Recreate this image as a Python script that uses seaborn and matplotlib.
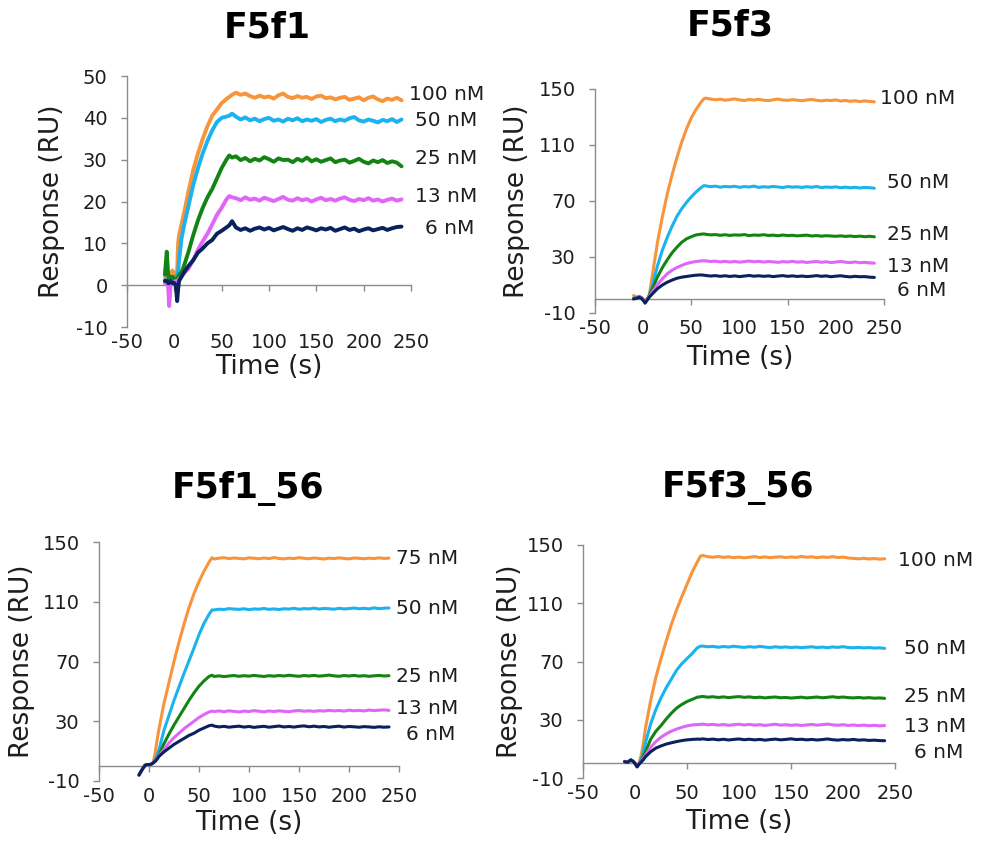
import matplotlib
matplotlib.use("Agg")
import matplotlib.pyplot as plt
import pandas as pd
import seaborn as sns

# ---------------------------------------------------------------- data
PANEL_TITLES = ["F5f1", "F5f3", "F5f1_56", "F5f3_56"]
CONC_LABELS = [
    ["100 nM", "50 nM", "25 nM", "13 nM", "6 nM"],
    ["100 nM", "50 nM", "25 nM", "13 nM", "6 nM"],
    ["75 nM", "50 nM", "25 nM", "13 nM", "6 nM"],
    ["100 nM", "50 nM", "25 nM", "13 nM", "6 nM"],
]
X_TICKS = [-50, 0, 50, 100, 150, 200, 250]
Y_TICKS_F5F1 = [-10, 0, 10, 20, 30, 40, 50]
Y_TICKS_OTHER = [-10, 30, 70, 110, 150]
AXIS_TICKS_FINE = [-50, 0, 50, 100, 150, 200, 250]
AXIS_TICKS_COARSE = [-50, 50, 150, 250]

# time points (s)
T_PRE_F5F1 = [-10, -8, -6.5, -5.5, -4, -2, 0, 1.5, 3, 4, 5, 7.5,
              10, 15, 20, 25, 30, 35, 40, 45, 50, 55, 58, 61]
T_PRE = [-10, -7, -4, -2, 0, 2, 4, 6, 8, 10,
         15, 20, 25, 30, 35, 40, 45, 50, 55, 60, 63]
T_PLATEAU = [65, 70, 75, 80, 85, 90, 95, 100, 105, 110, 115, 120,
             125, 130, 135, 140, 145, 150, 155, 160, 165, 170, 175, 180,
             185, 190, 195, 200, 205, 210, 215, 220, 225, 230, 235, 240]

# ---- F5f1 (RU)
F5F1_100 = [1.5, 2.5, 3.0, -3.5, 2.0, 3.5, 2.5, 3.0, 3.5, 10.0, 12.0, 14.5,
            17.0, 22.5, 27.5, 31.5, 35.0, 38.0, 40.5, 42.0, 43.5, 44.5, 45.0, 45.5,
            46.0, 45.5, 45.8, 45.2, 44.8, 45.3, 44.9, 45.1, 44.6, 45.4, 45.8, 45.0,
            44.7, 45.2, 44.8, 45.0, 44.5, 45.1, 45.3, 44.7, 44.9, 44.4, 44.8, 45.0,
            44.3, 44.6, 44.9, 44.2, 44.8, 45.1, 44.4, 44.0, 44.6, 44.3, 44.8, 44.2]
F5F1_50 = [1.0, 1.5, 1.0, 0.5, 1.0, 1.5, 1.5, 2.0, 2.5, 3.0, 6.0, 11.0,
           14.0, 19.0, 24.0, 28.0, 31.5, 34.5, 37.0, 39.0, 40.0, 40.3, 40.5, 41.0,
           40.3, 39.6, 40.1, 39.4, 39.8, 39.2, 39.7, 40.0, 39.3, 39.6, 39.1, 39.8,
           39.4, 39.9, 39.2, 39.6, 39.3, 39.7, 39.0, 39.5, 39.8, 39.2, 39.6, 39.3,
           39.9, 40.2, 39.4, 39.1, 39.6, 39.3, 38.9, 39.5, 39.2, 39.7, 39.0, 39.6]
F5F1_25 = [2.5, 8.0, 2.5, 1.5, 2.0, 2.0, 1.5, 1.5, 1.5, 2.0, 2.5, 3.0,
           4.5, 8.0, 12.0, 15.5, 18.5, 21.0, 23.0, 25.5, 28.0, 30.0, 31.0, 30.5,
           30.8, 29.9, 30.4, 29.6, 30.2, 29.8, 30.6, 30.1, 29.5, 30.3, 29.9, 30.0,
           29.4, 30.2, 29.7, 30.5, 29.6, 30.1, 29.5, 29.9, 30.3, 29.4, 29.8, 30.0,
           29.3, 29.7, 30.2, 29.5, 29.1, 29.8, 29.4, 29.9, 29.2, 29.6, 29.3, 28.4]
F5F1_13 = [0.5, 0.5, 0.0, -5.0, 0.0, 0.5, 0.5, 1.0, 1.0, 1.2, 1.5, 2.0,
           2.8, 4.0, 6.0, 8.5, 10.5, 12.3, 14.5, 16.8, 18.5, 20.5, 21.3, 21.0,
           20.8, 20.3, 21.0, 20.4, 20.7, 20.2, 20.9, 20.5, 20.1, 20.6, 21.1, 20.4,
           20.2, 20.8, 20.3, 20.6, 20.0, 20.5, 20.9, 20.3, 20.6, 20.2, 20.7, 21.0,
           20.4, 20.1, 20.6, 20.3, 20.8, 20.2, 20.5, 20.0, 20.4, 20.7, 20.2, 20.5]
F5F1_6 = [1.0, 1.0, 0.5, 0.5, 1.0, 0.5, 0.5, 0.0, -3.8, -1.0, 1.0, 2.0,
          3.0, 4.6, 6.0, 7.8, 8.8, 10.0, 10.8, 12.3, 13.0, 13.8, 14.3, 15.3,
          13.8, 13.2, 13.6, 13.0, 13.5, 13.8, 13.3, 13.7, 13.1, 13.5, 13.9, 13.4,
          13.0, 13.6, 13.2, 13.8, 13.5, 13.1, 13.6, 13.3, 13.7, 13.0, 13.4, 13.8,
          13.2, 13.5, 12.9, 13.3, 13.6, 13.1, 13.4, 13.7, 13.2, 13.6, 13.9, 14.0]

# ---- F5f3 (RU)
F5F3_100 = [2.5, 1.5, 2.0, 1.0, 0.0, -2.0, 0.0, 2.0, 10.0, 19.0,
            41.0, 59.0, 75.0, 88.5, 101.0, 112.0, 121.5, 129.5, 135.5, 140.5, 143.0,
            143.5, 142.8, 142.3, 142.7, 142.0, 142.4, 142.9, 142.2, 141.8, 142.5, 142.1, 142.6,
            142.0, 141.7, 142.3, 142.8, 142.1, 141.9, 142.4, 142.0, 141.6, 142.2, 142.5, 141.9,
            141.5, 142.0, 141.7, 142.2, 141.4, 141.8, 141.2, 141.6, 141.0, 141.5, 141.1, 140.8]
F5F3_50 = [0.5, 1.0, 1.5, 1.0, -0.5, -2.5, -0.5, 1.5, 6.0, 11.0,
           24.0, 35.0, 44.0, 52.0, 59.0, 64.5, 69.0, 73.0, 76.5, 79.5, 81.0,
           80.8, 80.2, 80.6, 79.9, 80.4, 80.1, 80.5, 79.8, 80.3, 80.0, 80.6, 79.7,
           80.2, 79.9, 80.4, 80.0, 79.6, 80.3, 79.9, 80.1, 79.7, 80.2, 79.8, 80.4,
           79.6, 80.0, 79.7, 80.1, 79.5, 79.9, 79.4, 79.8, 79.3, 79.7, 79.5, 79.1]
F5F3_25 = [0.5, 0.5, 1.5, 1.0, -0.5, -2.0, 0.0, 2.0, 5.0, 8.0,
           16.0, 22.5, 28.0, 33.0, 37.0, 40.5, 43.0, 44.5, 45.8, 46.3, 46.5,
           46.2, 45.8, 46.0, 45.5, 45.9, 45.4, 45.8, 45.6, 46.0, 45.3, 45.7, 45.5,
           45.9, 45.4, 45.6, 45.2, 45.7, 45.3, 45.5, 45.1, 45.4, 45.6, 45.0, 45.3,
           44.9, 45.2, 45.0, 44.8, 45.1, 44.7, 45.0, 44.6, 44.9, 44.5, 44.8, 44.4]
F5F3_13 = [0.5, 0.5, 1.5, 1.0, -0.5, -2.0, 0.0, 1.5, 3.5, 5.5,
           10.5, 14.5, 18.0, 20.5, 22.5, 24.0, 25.3, 26.2, 26.8, 27.2, 27.3,
           27.2, 26.8, 27.0, 26.5, 26.9, 26.4, 26.8, 26.3, 26.7, 27.1, 26.6, 26.9,
           26.4, 26.8, 26.5, 26.2, 26.7, 26.4, 26.9, 26.3, 26.6, 26.1, 26.5, 26.8,
           26.2, 26.6, 26.0, 26.4, 26.8, 26.3, 26.0, 26.5, 25.9, 26.2, 25.8, 25.6]
F5F3_6 = [0.0, 0.5, 1.2, 0.5, -1.0, -3.0, -1.0, 1.0, 2.5, 4.0,
          7.5, 10.0, 12.0, 13.5, 14.8, 15.6, 16.1, 16.6, 17.0, 17.2, 17.0,
          16.8, 16.4, 16.7, 16.2, 16.6, 16.1, 16.5, 16.0, 16.4, 16.8, 16.3, 16.6,
          16.2, 16.5, 16.0, 16.4, 16.7, 16.2, 16.5, 16.1, 16.4, 16.0, 16.3, 16.7,
          16.2, 16.5, 15.9, 16.3, 16.6, 16.1, 15.8, 16.2, 15.9, 16.0, 15.6, 15.4]

# ---- F5f1_56 (RU)
F5F1_56_75 = [-6.0, -2.5, 0.5, 1.0, 1.0, 1.2, 2.0, 8.0, 17.0, 25.0,
              42.0, 56.0, 70.0, 83.0, 95.0, 106.0, 115.5, 123.5, 130.5, 136.5, 139.5,
              138.6, 139.2, 139.5, 138.9, 139.3, 139.0, 138.7, 139.4, 139.1, 138.8, 139.3, 138.9,
              139.6, 139.0, 138.7, 139.2, 138.9, 139.5, 139.1, 138.8, 139.3, 139.0, 138.6, 139.2,
              138.9, 139.4, 139.0, 138.7, 139.3, 139.1, 138.8, 139.2, 138.9, 139.4, 139.0, 139.2]
F5F1_56_50 = [-6.0, -2.5, 0.5, 1.0, 1.0, 1.2, 2.0, 4.0, 7.0, 11.0,
              24.0, 34.0, 44.0, 53.0, 62.0, 70.5, 79.0, 88.0, 95.5, 101.5, 104.5,
              104.5, 105.0, 104.8, 105.4, 105.1, 104.9, 105.3, 104.7, 105.2, 105.0, 105.5, 104.9,
              105.2, 104.8, 105.3, 105.1, 105.6, 105.0, 105.4, 105.2, 105.7, 105.1, 105.5, 105.3,
              105.0, 105.6, 105.2, 105.4, 105.8, 105.3, 105.6, 105.2, 105.9, 105.4, 105.7, 105.8]
F5F1_56_25 = [-6.0, -2.5, 0.5, 1.0, 1.0, 1.2, 2.0, 3.5, 5.5, 7.5,
              15.0, 21.5, 27.5, 33.0, 38.5, 44.0, 49.0, 53.5, 57.0, 60.0, 60.8,
              60.0, 60.4, 59.9, 60.3, 60.6, 60.1, 60.5, 60.2, 60.7, 60.3, 60.0, 60.5,
              60.2, 60.6, 60.3, 60.8, 60.4, 60.1, 60.6, 60.3, 60.7, 60.2, 60.5, 60.9,
              60.4, 60.1, 60.6, 60.3, 60.7, 60.2, 60.5, 60.1, 60.4, 60.7, 60.3, 60.5]
F5F1_56_13 = [-6.0, -2.5, 0.5, 1.0, 1.0, 1.2, 2.0, 3.0, 5.0, 7.0,
              11.0, 15.5, 19.0, 22.0, 25.0, 27.5, 30.0, 32.5, 34.5, 36.2, 36.8,
              36.5, 36.9, 36.4, 37.0, 36.6, 36.2, 36.8, 36.5, 37.1, 36.7, 36.3, 36.9,
              36.5, 37.0, 36.6, 36.4, 36.9, 37.2, 36.7, 37.0, 36.6, 37.1, 36.8, 37.3,
              36.9, 37.2, 36.8, 37.4, 37.0, 37.3, 36.9, 37.5, 37.1, 37.4, 37.6, 37.3]
F5F1_56_6 = [-6.0, -2.5, 0.5, 1.0, 1.0, 1.2, 2.0, 3.0, 4.5, 6.5,
             9.5, 12.0, 14.5, 16.5, 18.5, 20.5, 22.0, 24.0, 25.5, 27.0, 27.4,
             26.8, 26.2, 26.6, 26.0, 26.4, 26.7, 26.1, 26.5, 25.9, 26.3, 26.6, 26.0,
             26.4, 26.8, 26.2, 26.5, 26.1, 26.6, 26.9, 26.3, 26.7, 26.2, 26.5, 26.0,
             26.4, 26.7, 26.1, 26.5, 26.3, 26.0, 26.4, 26.2, 25.9, 26.3, 26.0, 26.2]

# ---- F5f3_56 (RU)
F5F3_56_100 = [1.5, 1.0, 2.4, 1.5, 0.0, -2.0, 0.5, 6.0, 14.0, 24.0,
               43.0, 59.0, 72.0, 84.0, 95.5, 105.5, 114.5, 123.0, 131.5, 138.5, 142.4,
               142.8, 142.0, 141.6, 142.1, 141.5, 141.9, 141.3, 141.7, 141.2, 141.6, 142.0, 141.4,
               141.8, 141.3, 141.7, 141.9, 141.4, 141.8, 141.5, 142.1, 141.6, 141.9, 141.3, 141.8,
               141.5, 142.0, 141.4, 141.7, 141.1, 140.8, 140.5, 140.9, 140.4, 140.7, 140.3, 140.5]
F5F3_56_50 = [1.2, 0.8, 2.4, 1.5, 0.0, -2.3, 0.0, 3.0, 8.0, 14.0,
              27.0, 37.0, 45.0, 52.0, 58.0, 64.0, 68.5, 72.0, 75.5, 79.5, 80.5,
              80.6, 80.1, 80.4, 79.8, 80.3, 79.9, 80.5, 80.0, 79.7, 80.2, 79.8, 80.4,
              79.9, 79.6, 80.1, 79.7, 80.0, 79.6, 79.9, 79.5, 79.8, 80.1, 79.6, 79.9,
              79.5, 80.0, 79.7, 80.2, 79.6, 79.4, 79.7, 79.3, 79.6, 79.2, 79.4, 79.0]
F5F3_56_25 = [1.2, 0.8, 2.4, 1.5, 0.0, -2.3, 0.0, 2.0, 5.0, 8.0,
              16.5, 22.0, 26.0, 30.5, 34.5, 38.0, 40.5, 42.5, 44.0, 45.5, 45.8,
              46.0, 45.5, 45.8, 45.3, 45.7, 45.2, 45.6, 45.9, 45.4, 45.7, 45.2, 45.5,
              45.0, 45.4, 45.6, 45.1, 45.3, 44.9, 45.2, 45.5, 45.0, 45.3, 45.6, 45.1,
              45.4, 45.8, 45.3, 45.6, 45.2, 45.0, 45.3, 44.9, 45.2, 44.8, 45.0, 44.7]
F5F3_56_13 = [1.2, 0.8, 2.4, 1.5, 0.0, -2.3, 0.0, 1.5, 3.5, 5.5,
              11.0, 15.0, 18.0, 20.3, 22.2, 23.6, 24.8, 25.8, 26.4, 26.7, 26.8,
              27.0, 26.5, 26.8, 26.3, 26.7, 26.2, 26.6, 26.9, 26.4, 26.8, 26.3, 26.6,
              26.1, 26.5, 26.9, 26.3, 26.6, 26.2, 26.5, 26.1, 26.4, 26.8, 26.3, 26.6,
              27.0, 26.5, 26.2, 26.6, 26.1, 26.4, 26.0, 26.3, 25.9, 26.2, 25.8, 26.0]
F5F3_56_6 = [1.2, 0.8, 2.4, 1.5, 0.0, -2.3, -0.5, 1.0, 2.5, 4.5,
             8.0, 10.5, 12.0, 13.3, 14.2, 15.0, 15.7, 16.2, 16.5, 16.7, 16.6,
             16.9, 16.4, 16.7, 16.2, 16.6, 16.1, 16.5, 16.8, 16.3, 16.6, 16.2, 16.5,
             16.0, 16.4, 16.7, 16.2, 16.5, 16.9, 16.4, 16.6, 16.2, 16.5, 16.1, 16.4,
             16.8, 16.3, 16.0, 16.4, 16.1, 16.5, 16.0, 16.2, 15.8, 16.0, 15.7, 15.6]

PANEL_TIMES = [T_PRE_F5F1 + T_PLATEAU, T_PRE + T_PLATEAU,
               T_PRE + T_PLATEAU, T_PRE + T_PLATEAU]
PANEL_SERIES = [
    [F5F1_100, F5F1_50, F5F1_25, F5F1_13, F5F1_6],
    [F5F3_100, F5F3_50, F5F3_25, F5F3_13, F5F3_6],
    [F5F1_56_75, F5F1_56_50, F5F1_56_25, F5F1_56_13, F5F1_56_6],
    [F5F3_56_100, F5F3_56_50, F5F3_56_25, F5F3_56_13, F5F3_56_6],
]

# ---------------------------------------------------------------- style / layout
COLORS = ["#F7943C", "#1AB3EE", "#138413", "#DF66F8", "#0B215E"]
GREY = "#8C8C8C"
TXT = "#1E1E1E"
W, H = 984, 842

# axes boxes in pixels: left, top, right, bottom
AX_BOX = [(127, 76, 411, 327), (595, 89, 884, 313),
          (99, 542, 399, 781), (583, 545, 895, 778)]
Y_LIMS = [(-10, 50), (-10, 150), (-10, 150), (-10, 150)]
Y_TICKS = [Y_TICKS_F5F1, Y_TICKS_OTHER, Y_TICKS_OTHER, Y_TICKS_OTHER]
ZERO_TICKS = [AXIS_TICKS_FINE, AXIS_TICKS_COARSE, AXIS_TICKS_FINE, AXIS_TICKS_COARSE]
LINE_W = [2.8, 2.2, 2.2, 2.2]
YLAB_X = [-0.264, -0.271, -0.258, -0.234]
XLAB_Y = [-0.159, -0.202, -0.174, -0.187]
TITLE_POS = [(267, 28), (730, 26), (248, 488), (738, 487)]
LABEL_POS = [
    [(409, 95), (415, 121), (415, 159), (415, 196), (425, 228)],
    [(880, 99), (887, 183), (887, 235), (887, 266), (897, 291)],
    [(396, 558), (396, 608), (396, 676), (396, 709), (406, 735)],
    [(898, 560), (904, 648), (904, 696), (904, 727), (914, 753)],
]

sns.set_theme(style="ticks")
plt.rcParams["font.family"] = ["DejaVu Sans"]
plt.rcParams["axes.unicode_minus"] = False

fig = plt.figure(figsize=(W / 100, H / 100), dpi=100)
fig.patch.set_facecolor("white")


def px_rect(l, t, r, b):
    return [l / W, 1 - b / H, (r - l) / W, (b - t) / H]


for i in range(4):
    ax = fig.add_axes(px_rect(*AX_BOX[i]))
    ax.set_facecolor("white")
    labels = CONC_LABELS[i]
    times = PANEL_TIMES[i]
    frames = []
    for lab, vals in zip(labels, PANEL_SERIES[i]):
        frames.append(pd.DataFrame({"time": times, "response": vals, "conc": lab}))
    df = pd.concat(frames, ignore_index=True)
    sns.lineplot(data=df, x="time", y="response", hue="conc", hue_order=labels,
                 palette=COLORS, estimator=None, sort=False, legend=False,
                 linewidth=LINE_W[i], ax=ax, solid_joinstyle="round",
                 solid_capstyle="round")

    ymin, ymax = Y_LIMS[i]
    ax.set_xlim(-50, 250)
    ax.set_ylim(ymin, ymax)
    ax.set_xticks(X_TICKS)
    ax.set_yticks(Y_TICKS[i])
    for s in ["top", "right", "bottom"]:
        ax.spines[s].set_visible(False)
    ax.spines["left"].set_color(GREY)
    ax.spines["left"].set_linewidth(1.0)
    ax.tick_params(axis="x", bottom=True, length=0, pad=4, labelsize=14,
                   labelcolor=TXT)
    ax.tick_params(axis="y", left=True, length=4, width=1.0, color=GREY,
                   direction="out", pad=10, labelsize=14, labelcolor=TXT)

    # x-axis line crossing at y = 0
    sec = ax.secondary_xaxis((0 - ymin) / (ymax - ymin))
    sec.set_xticks(ZERO_TICKS[i])
    sec.tick_params(axis="x", bottom=True, top=False, length=4, width=1.0,
                    color=GREY, direction="out", labelbottom=False, labeltop=False)
    for sp in sec.spines.values():
        sp.set_color(GREY)
        sp.set_linewidth(1.0)

    ax.set_xlabel("Time (s)", fontsize=19, color=TXT)
    ax.set_ylabel("Response (RU)", fontsize=19, color=TXT)
    ax.xaxis.label.set_va("center")
    ax.yaxis.label.set_va("center")
    ax.xaxis.set_label_coords(0.5, XLAB_Y[i])
    ax.yaxis.set_label_coords(YLAB_X[i], 0.5)

    tx, ty = TITLE_POS[i]
    fig.text(tx / W, 1 - ty / H, PANEL_TITLES[i], ha="center", va="center",
             fontsize=25, fontweight="bold", color="black")
    for lab, (lx, ly) in zip(labels, LABEL_POS[i]):
        fig.text(lx / W, 1 - ly / H, lab, ha="left", va="center",
                 fontsize=14.5, color=TXT)

fig.savefig("out.png", dpi=100, facecolor="white")
